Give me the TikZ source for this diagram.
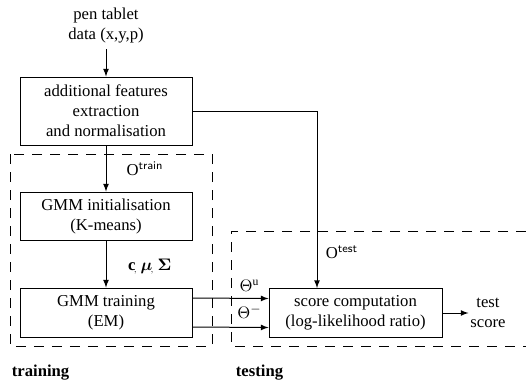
\documentclass[tikz,border=0pt]{standalone}
\usepackage{fontspec}
\setmainfont{Liberation Serif}
\usepackage{amsmath,bm}
\usetikzlibrary{positioning,calc}

\begin{document}
\begin{tikzpicture}[
    x=0.6pt, y=-0.6pt,
    box/.style={rectangle, draw=black, fill=white, minimum width=103.2pt,
                align=center, line width=0.6pt, inner sep=2pt},
    arrow/.style={->, >=latex, line width=0.6pt},
    phase/.style={dash pattern=on 6pt off 4.8pt, line width=0.6pt},
    lbl/.style={inner sep=1pt}
]
\useasboundingbox (0,0) rectangle (526,380);

% phase frames
\draw[phase] (10,154) rectangle (212,346);
\draw[phase] (526,231) -- (231,231) -- (231,346) -- (526,346);
\node[anchor=west, font=\bfseries] (ttrain) at (6,373) {training};
\node[anchor=west, font=\bfseries] (ttest) at (230,373) {testing};

% blocks
\node[align=center] (pen) at (106,26) {pen tablet\\data (x,y,p)};
\node[box, minimum height=40.8pt] (feat) at (106,111) {
    additional features\\
    extraction\\
    and normalisation
};
\node[box, minimum height=28.8pt] (init) at (106,216) {
    GMM initialisation\\
    (K-means)
};
\node[box, minimum height=29.4pt] (train) at (106,312.5) {
    GMM training\\
    (EM)
};
\node[box, minimum height=29.4pt, minimum width=103.8pt] (score) at (355.5,313) {
    score computation\\
    (log-likelihood ratio)
};
\node[align=center, inner sep=1pt] (out) at (488,313) {test\\score};

% connectors
\draw[arrow] (pen) -- (feat);
\draw[arrow] (feat) -- node[lbl, right=11pt, pos=0.5] {$\mathrm{O}^{\mathsf{train}}$} (init);
\draw[arrow] (init) -- node[lbl, right=12pt, pos=0.55] {$\mathbf{c}_{\!\scriptscriptstyle,}\,\bm{\mu}_{\!\scriptscriptstyle,}\,\bm{\Sigma}$} (train);
\draw[arrow] (feat.east) -| node[lbl, pos=0.9, right=4pt] {$\mathrm{O}^{\mathsf{test}}$} ([xshift=-23.1pt]score.north);
\draw[arrow] ([yshift=8.7pt]train.east) -- node[lbl, pos=0.75, above=3pt] {$\Theta^{\mathrm{u}}$} ([yshift=8.7pt]score.west);
\draw[arrow] ([yshift=-8.7pt]train.east) -- node[lbl, pos=0.75, above=4pt] {$\Theta^{-}$} ([yshift=-8.7pt]score.west);
\draw[arrow] (score) -- (out);

\end{tikzpicture}
\end{document}
